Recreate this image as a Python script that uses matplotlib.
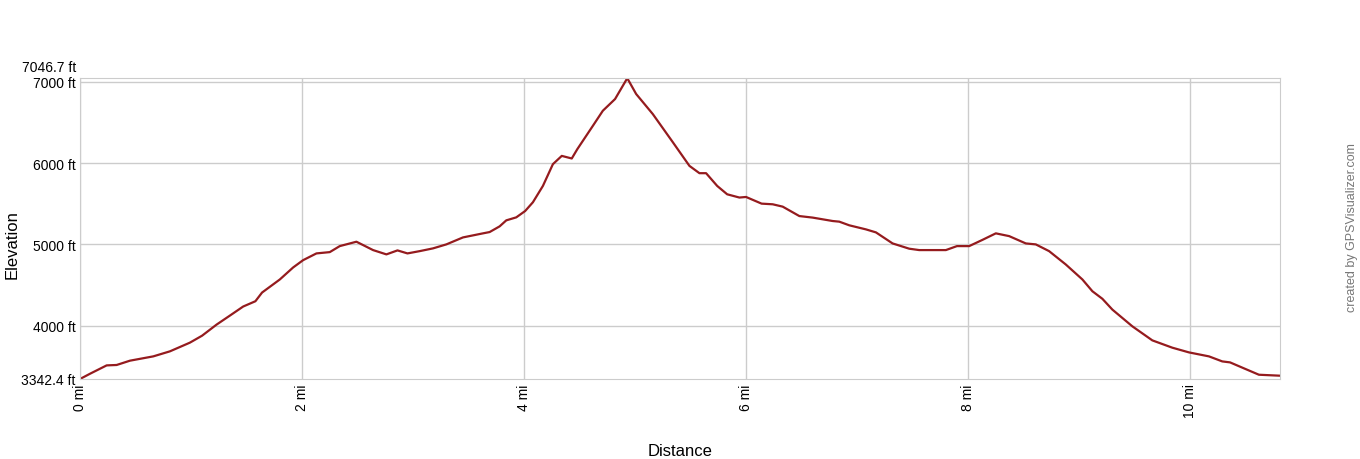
import numpy as np
import matplotlib.pyplot as plt
import matplotlib.transforms as mtransforms

plt.rcParams['font.family'] = ['Liberation Sans', 'DejaVu Sans']

# profil trasy: dystans [mi], wysokosc [ft]
dystans = [0.00, 0.09, 0.24, 0.33, 0.45, 0.66, 0.81, 0.99, 1.10, 1.23, 1.35, 1.47,
           1.58, 1.64, 1.80, 1.92, 2.01, 2.13, 2.25, 2.34, 2.49, 2.64, 2.76, 2.86,
           2.95, 3.06, 3.18, 3.30, 3.45, 3.63, 3.69, 3.78, 3.84, 3.93, 4.01, 4.08,
           4.17, 4.26, 4.34, 4.43, 4.48, 4.62, 4.71, 4.82, 4.93, 5.01, 5.16, 5.34,
           5.49, 5.58, 5.64, 5.74, 5.83, 5.94, 6.00, 6.14, 6.24, 6.33, 6.48, 6.60,
           6.78, 6.84, 6.93, 7.08, 7.17, 7.32, 7.47, 7.56, 7.80, 7.90, 8.01, 8.13,
           8.25, 8.37, 8.52, 8.61, 8.73, 8.88, 9.03, 9.12, 9.21, 9.30, 9.48, 9.66,
           9.84, 9.99, 10.17, 10.29, 10.36, 10.50, 10.62, 10.81]
wysokosc = [3342.4, 3407, 3510, 3515, 3568, 3621, 3683, 3790, 3876, 4012, 4123, 4235,
            4300, 4407, 4568, 4716, 4806, 4889, 4905, 4979, 5033, 4930, 4877, 4926,
            4889, 4917, 4951, 5000, 5086, 5136, 5152, 5222, 5296, 5333, 5411, 5519,
            5720, 5988, 6090, 6058, 6173, 6460, 6646, 6790, 7046.7, 6852, 6605, 6259,
            5967, 5877, 5877, 5720, 5617, 5577, 5584, 5502, 5494, 5465, 5349, 5330,
            5288, 5280, 5235, 5185, 5148, 5012, 4947, 4930, 4930, 4979, 4979, 5056,
            5136, 5102, 5012, 5000, 4917, 4753, 4568, 4423, 4330, 4197, 3991, 3818,
            3728, 3670, 3621, 3559, 3547, 3465, 3395, 3383]

y_min = 3342.4
y_max = 7046.7
y_ticks = [3342.4, 4000, 5000, 6000, 7000, 7046.7]
y_labels = ['3342.4 ft', '4000 ft', '5000 ft', '6000 ft', '7000 ft', '7046.7 ft']
x_ticks = [0, 2, 4, 6, 8, 10]
x_labels = ['0 mi', '2 mi', '4 mi', '6 mi', '8 mi', '10 mi']

fig = plt.figure(figsize=(13.6, 4.6), dpi=100)
ax = fig.add_axes([80/1360, 1 - 380/460, 1200/1360, (380 - 79.2)/460])

ax.plot(dystans, wysokosc, color='#951b1e', linewidth=1.6)

ax.set_xlim(0, dystans[-1])
ax.set_ylim(y_min, y_max)

ax.set_yticks(y_ticks)
ax.set_yticklabels(y_labels, fontsize=10)
ax.set_xticks(x_ticks)
ax.set_xticklabels(x_labels, fontsize=10, rotation=90, va='top', ha='center')
ax.tick_params(axis='both', length=0, pad=3)

# gorna etykieta troche wyzej, zeby nie nachodzila na 7000 ft
lab = ax.get_yticklabels()
lab[-1].set_va('bottom')
lab[-1].set_transform(lab[-1].get_transform() +
                      mtransforms.ScaledTranslation(0, 3/72, fig.dpi_scale_trans))
lab[-2].set_va('center')
lab[-2].set_transform(lab[-2].get_transform() +
                      mtransforms.ScaledTranslation(0, -1/72, fig.dpi_scale_trans))

ax.grid(True, color='#cccccc', linewidth=1)
for g in ax.get_ygridlines()[-1:]:
    g.set_visible(False)
for g in ax.get_ygridlines()[:1]:
    g.set_visible(False)
for s in ax.spines.values():
    s.set_color('#cccccc')
ax.set_axisbelow(True)

fig.text(12/1360, 1 - 245/460, 'Elevation', rotation=90, fontsize=12,
         ha='center', va='center')
fig.text(680/1360, 1 - 452/460, 'Distance', fontsize=12, ha='center', va='center')
fig.text(1352/1360, 1 - 228/460, 'created by GPSVisualizer.com', rotation=90,
         fontsize=9, color='#777777', ha='center', va='center')

fig.savefig('out.png', dpi=100)
